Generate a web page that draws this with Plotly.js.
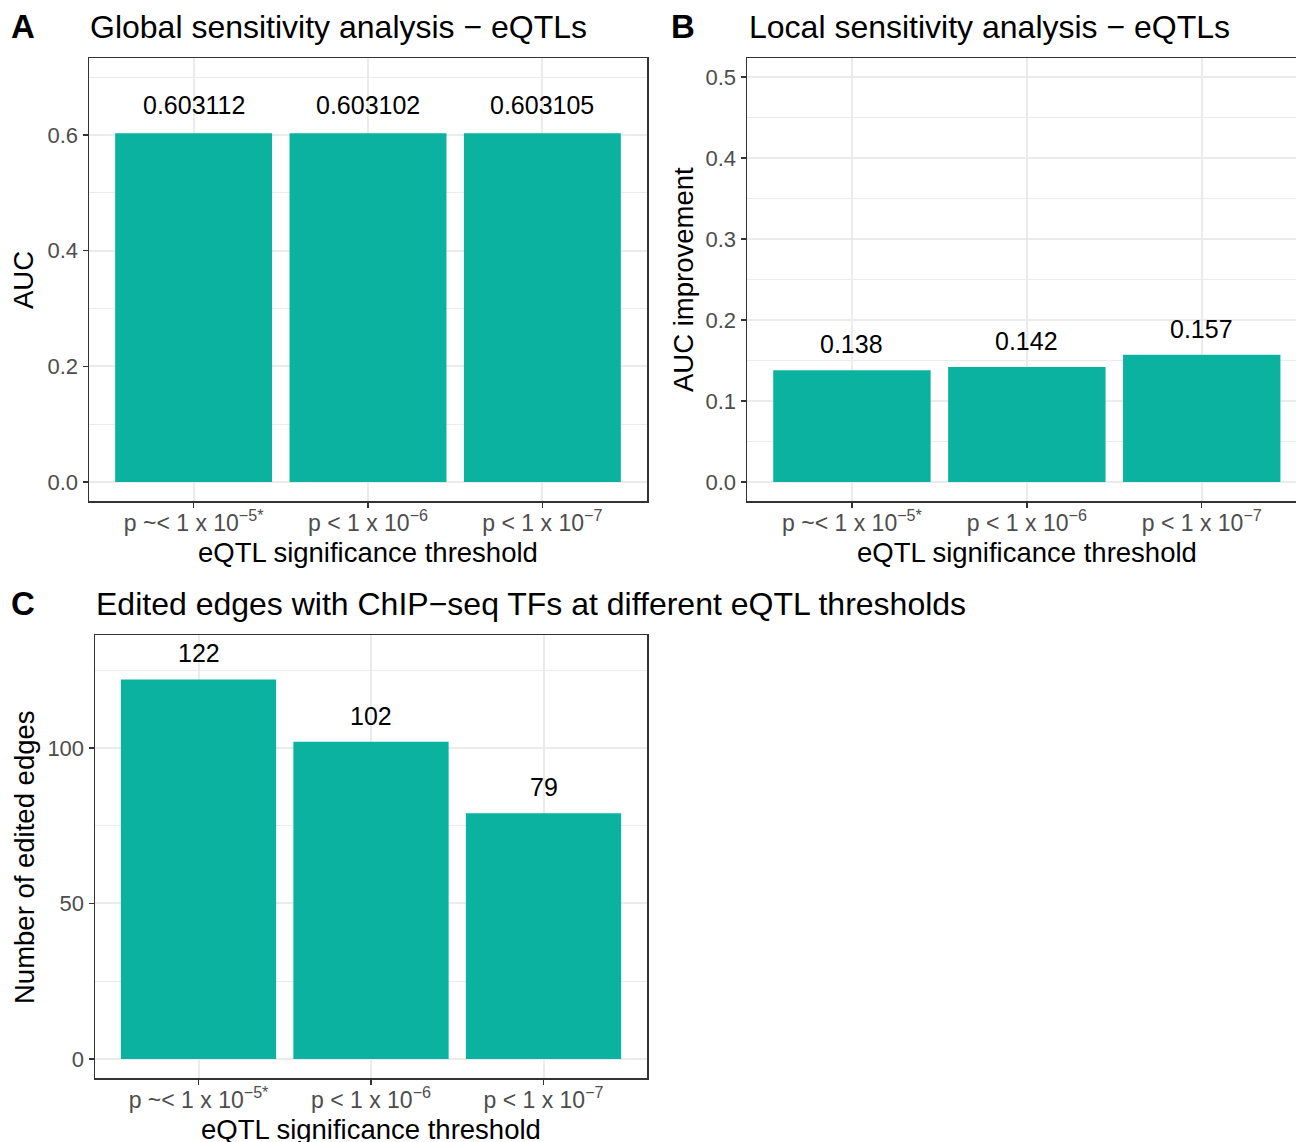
<!DOCTYPE html>
<html>
<head>
<meta charset="utf-8">
<script src="https://cdn.plot.ly/plotly-3.0.1.min.js"></script>
<style>html,body{margin:0;padding:0;overflow:hidden;background:#fff;}</style>
</head>
<body>
<div id="chart" style="width:1296px;height:1142px;"></div>
<script>
// ---- data ----
const thresholdLabels = [
  "p ~< 1 x 10<sup>\u22125*</sup>",
  "p < 1 x 10<sup>\u22126</sup>",
  "p < 1 x 10<sup>\u22127</sup>"
];
const globalAUC = [0.603112, 0.603102, 0.603105];
const globalAUCText = ["0.603112", "0.603102", "0.603105"];
const localAUCImprovement = [0.138, 0.142, 0.157];
const localAUCText = ["0.138", "0.142", "0.157"];
const editedEdges = [122, 102, 79];
const editedEdgesText = ["122", "102", "79"];

// ---- layout helpers ----
const W = 1296, H = 1142;
const px = x => x / W;
const py = y => 1 - y / H;
const FONT = "Liberation Sans, Arial, sans-serif";
const barColor = "#0CB2A0";

function bar(xa, ya, y) {
  return {
    type: "bar", x: thresholdLabels, y: y, xaxis: xa, yaxis: ya,
    marker: {color: barColor, line: {width: 0}}, width: 0.9,
    hoverinfo: "skip", showlegend: false
  };
}

function xAxis(domain, range, anchor) {
  return {
    domain: domain, anchor: anchor, type: "category", range: range,
    showline: true, linecolor: "#333333", linewidth: 1.5, mirror: true,
    ticks: "outside", ticklen: 5, tickwidth: 1.5, tickcolor: "#333333",
    tickfont: {family: FONT, size: 23, color: "#4D4D4D"},
    ticklabelstandoff: -4,
    showgrid: true, gridcolor: "#EBEBEB", gridwidth: 2,
    zeroline: false, fixedrange: true
  };
}
function yAxis(domain, range, dtick, minorDtick, anchor, mirror, fmt) {
  return {
    domain: domain, anchor: anchor, range: range, dtick: dtick, tick0: 0,
    tickformat: fmt,
    showline: true, linecolor: "#333333", linewidth: 1.5, mirror: mirror,
    ticks: "outside", ticklen: 5, tickwidth: 1.5, tickcolor: "#333333",
    tickfont: {family: FONT, size: 22, color: "#4D4D4D"},
    showgrid: true, gridcolor: "#EBEBEB", gridwidth: 2,
    minor: {dtick: minorDtick, showgrid: true, gridcolor: "#EBEBEB", gridwidth: 1, ticks: ""},
    zeroline: false, fixedrange: true
  };
}

const yDomTop = [py(501), py(58)];
const yDomBot = [py(1078), py(635)];

function labelAnns(xref, yref, vals, texts, shift) {
  return vals.map((v, i) => ({
    xref: xref, yref: yref, x: thresholdLabels[i], y: v,
    text: texts[i], showarrow: false, yanchor: "middle", yshift: shift,
    font: {family: FONT, size: 25, color: "#000000"}
  }));
}
function paperText(text, x, y, size, opts) {
  return Object.assign({
    xref: "paper", yref: "paper", x: px(x), y: py(y), text: text,
    showarrow: false, xanchor: "center", yanchor: "middle",
    font: {family: FONT, size: size, color: "#000000"}
  }, opts || {});
}

const annotations = [].concat(
  labelAnns("x", "y", globalAUC, globalAUCText, 28),
  labelAnns("x2", "y2", localAUCImprovement, localAUCText, 26),
  labelAnns("x3", "y3", editedEdges, editedEdgesText, 26),
  [
    paperText("<b>A</b>", 23, 27, 33),
    paperText("<b>B</b>", 683, 27, 33),
    paperText("<b>C</b>", 23, 603, 33),
    paperText("Global sensitivity analysis \u2212 eQTLs", 88, 27, 32, {xanchor: "left"}),
    paperText("Local sensitivity analysis \u2212 eQTLs", 747, 27, 32, {xanchor: "left"}),
    paperText("Edited edges with ChIP\u2212seq TFs at different eQTL thresholds", 94, 604, 32, {xanchor: "left"}),
    paperText("eQTL significance threshold", 368, 552, 27.5),
    paperText("eQTL significance threshold", 1027, 552, 27.5),
    paperText("eQTL significance threshold", 371, 1129, 27.5),
    paperText("AUC", 24, 280, 27.5, {textangle: -90}),
    paperText("AUC improvement", 683, 279, 27.5, {textangle: -90}),
    paperText("Number of edited edges", 24, 857, 27.5, {textangle: -90})
  ]
);

const data = [
  bar("x", "y", globalAUC),
  bar("x2", "y2", localAUCImprovement),
  bar("x3", "y3", editedEdges)
];

const layout = {
  width: W, height: H,
  margin: {l: 0, r: 0, t: 0, b: 0},
  paper_bgcolor: "#ffffff", plot_bgcolor: "#ffffff",
  font: {family: FONT},
  showlegend: false,
  bargap: 0.1,
  xaxis: xAxis([px(89), px(647)], [-0.6, 2.6], "y"),
  yaxis: yAxis(yDomTop, [-0.0329, 0.7332], 0.2, 0.1, "x", true, ".1f"),
  xaxis2: xAxis([px(747), 1], [-0.6, 2.539], "y2"),
  yaxis2: yAxis(yDomTop, [-0.0235, 0.5235], 0.1, 0.05, "x2", false, ".1f"),
  xaxis3: xAxis([px(95), px(647)], [-0.6, 2.6], "y3"),
  yaxis3: yAxis(yDomBot, [-6.1, 136.3], 50, 25, "x3", true, "d"),
  annotations: annotations
};

Plotly.newPlot("chart", data, layout, {staticPlot: true, displayModeBar: false});
</script>
</body>
</html>
